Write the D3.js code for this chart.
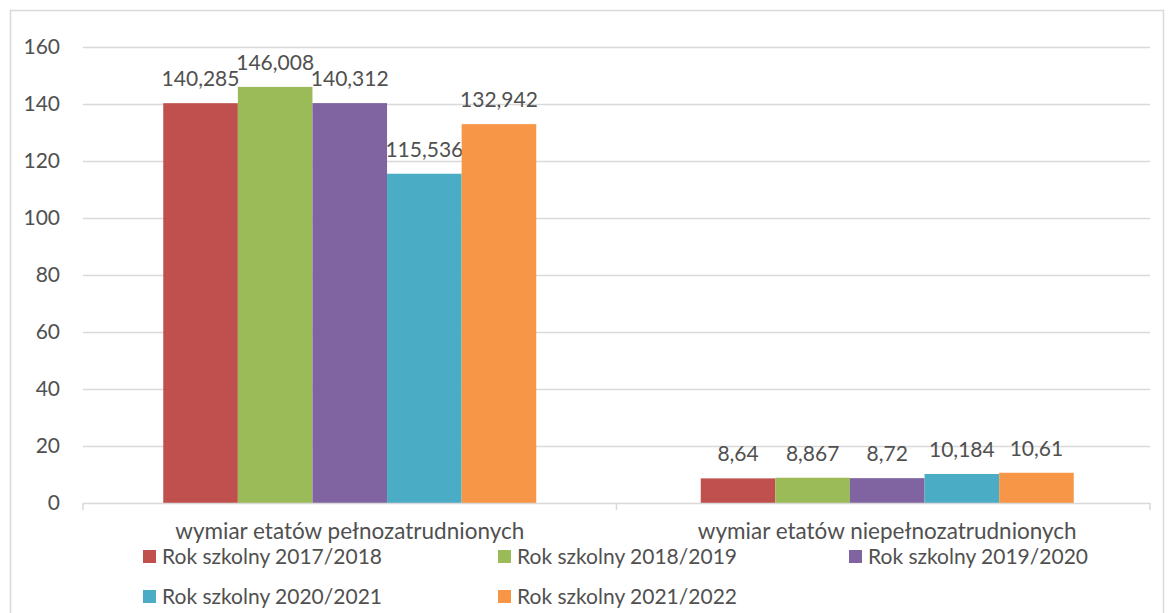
<!DOCTYPE html>
<html><head><meta charset="utf-8">
<script src="https://cdn.jsdelivr.net/npm/d3@7"></script>
<style>body{margin:0;background:#fff}svg{display:block}text{font-family:Lato,"Open Sans",sans-serif;fill:#505050}</style>
</head><body><svg id="c" width="1170" height="613"></svg>
<script>
const categories = ["wymiar etatów pełnozatrudnionych", "wymiar etatów niepełnozatrudnionych"];
const seriesNames = ["Rok szkolny 2017/2018","Rok szkolny 2018/2019","Rok szkolny 2019/2020","Rok szkolny 2020/2021","Rok szkolny 2021/2022"];
const seriesColors = ["#C0504D","#9BBB59","#8064A2","#4BACC6","#F79646"];
const values2017 = [140.285, 8.64];
const values2018 = [146.008, 8.867];
const values2019 = [140.312, 8.72];
const values2020 = [115.536, 10.184];
const values2021 = [132.942, 10.61];
const valueLabels = [["140,285","8,64"],["146,008","8,867"],["140,312","8,72"],["115,536","10,184"],["132,942","10,61"]];
const yTicks = [0,20,40,60,80,100,120,140,160];

const series = [values2017, values2018, values2019, values2020, values2021];
const svg = d3.select("#c");
svg.append("rect").attr("x",10.5).attr("y",10.5).attr("width",1153).attr("height",620)
  .attr("fill","#fff").attr("stroke","#d9d9d9").attr("stroke-width",1.5);

const L=83, R=1150, T=47, B=503;
const FS = "21px";
const y = d3.scaleLinear().domain([0,160]).range([B,T]);
const x0 = d3.scaleBand().domain(categories).range([L,R]).paddingInner(0).paddingOuter(0);
const groupW = 373;
const x1 = d3.scaleBand().domain(d3.range(5)).range([0,groupW]);

// grid
svg.append("g").selectAll("line").data(yTicks.filter(d=>d>0)).join("line")
  .attr("x1",L).attr("x2",R).attr("y1",d=>y(d)+0.5).attr("y2",d=>y(d)+0.5)
  .attr("stroke","#d9d9d9").attr("stroke-width",1.5);
// y labels
svg.append("g").selectAll("text").data(yTicks).join("text")
  .attr("x",60).attr("y",d=>y(d)).attr("dy","0.35em").attr("text-anchor","end")
  .style("font-size",FS).text(d=>d);

// bars
series.forEach((vals,si)=>{
  categories.forEach((cat,ci)=>{
    const cx = x0(cat)+x0.bandwidth()/2 + (ci===1?4:0);
    const bx = cx - groupW/2 + x1(si);
    svg.append("rect").attr("x",bx).attr("y",y(vals[ci])).attr("width",x1.bandwidth())
      .attr("height",B-y(vals[ci])).attr("fill",seriesColors[si]);
    svg.append("text").attr("x",bx+x1.bandwidth()/2).attr("y",y(vals[ci])-17)
      .attr("text-anchor","middle").style("font-size",FS).text(valueLabels[si][ci]);
  });
});

// x axis
svg.append("line").attr("x1",L).attr("x2",R).attr("y1",B+0.5).attr("y2",B+0.5).attr("stroke","#d9d9d9").attr("stroke-width",1.5);
[L, (L+R)/2, R].forEach(t=>{
  svg.append("line").attr("x1",t).attr("x2",t).attr("y1",B).attr("y2",B+7).attr("stroke","#d9d9d9").attr("stroke-width",1.5);
});
svg.append("g").selectAll("text").data(categories).join("text")
  .attr("x",(d,i)=>x0(d)+x0.bandwidth()/2+(i===1?4:0)).attr("y",531).attr("dy","0.35em")
  .attr("text-anchor","middle").style("font-size","22.5px").text(d=>d);

// legend
const legPos = [[143,557],[498,557],[849,557],[143,597],[498,597]];
seriesNames.forEach((n,i)=>{
  const [lx,ly]=legPos[i];
  svg.append("rect").attr("x",lx).attr("y",ly-7).attr("width",13).attr("height",13).attr("fill",seriesColors[i]);
  svg.append("text").attr("x",lx+19).attr("y",ly).attr("dy","0.35em").style("font-size",FS).text(n);
});
</script></body></html>
